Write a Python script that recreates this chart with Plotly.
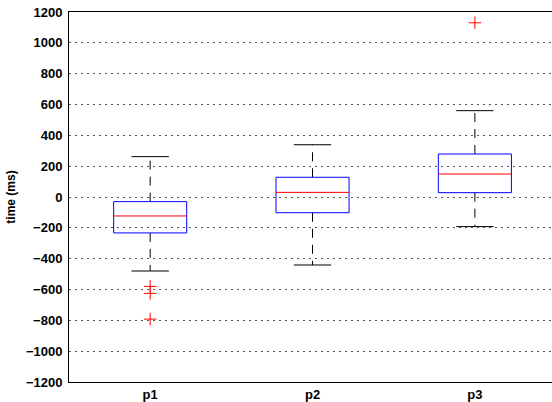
import plotly.graph_objects as go

categories = ["p1", "p2", "p3"]
positions = [1, 2, 3]
upper_whisker = [262, 339, 560]
q3 = [-30, 128, 279]
median = [-123, 30, 149]
q1 = [-233, -102, 28]
lower_whisker = [-480, -441, -192]
outliers = [[-580, -625, -792], [], [1130]]

box_half = 0.225
cap_half = 0.115
FONT = "Arial, Liberation Sans, Helvetica, sans-serif"

fig = go.Figure()

for i, p in enumerate(positions):
    # whiskers (dashed)
    fig.add_trace(go.Scatter(x=[p, p], y=[q3[i], upper_whisker[i]], mode="lines",
                             line=dict(color="black", width=1, dash="9px,7px"), hoverinfo="skip"))
    fig.add_trace(go.Scatter(x=[p, p], y=[q1[i], lower_whisker[i]], mode="lines",
                             line=dict(color="black", width=1, dash="9px,7px"), hoverinfo="skip"))
    # caps
    fig.add_trace(go.Scatter(x=[p - cap_half, p + cap_half], y=[upper_whisker[i]] * 2, mode="lines",
                             line=dict(color="black", width=1), hoverinfo="skip"))
    fig.add_trace(go.Scatter(x=[p - cap_half, p + cap_half], y=[lower_whisker[i]] * 2, mode="lines",
                             line=dict(color="black", width=1), hoverinfo="skip"))
    # box
    fig.add_trace(go.Scatter(x=[p - box_half, p + box_half, p + box_half, p - box_half, p - box_half],
                             y=[q1[i], q1[i], q3[i], q3[i], q1[i]], mode="lines",
                             line=dict(color="blue", width=1), hoverinfo="skip"))
    # median
    fig.add_trace(go.Scatter(x=[p - box_half, p + box_half], y=[median[i]] * 2, mode="lines",
                             line=dict(color="red", width=1), hoverinfo="skip"))
    # outliers
    if outliers[i]:
        fig.add_trace(go.Scatter(x=[p] * len(outliers[i]), y=outliers[i], mode="markers",
                                 marker=dict(symbol="cross-thin", size=9,
                                             line=dict(color="red", width=1)),
                                 hoverinfo="skip"))

fig.update_layout(
    width=552, height=402,
    margin=dict(l=69, r=0, t=12, b=20),
    paper_bgcolor="white", plot_bgcolor="white",
    showlegend=False,
    font=dict(family=FONT, size=12, color="black"),
    xaxis=dict(range=[0.5, 3.475], tickvals=positions, ticktext=categories,
               showgrid=False, zeroline=False, showline=True, linecolor="black",
               linewidth=1, mirror=True, ticks="", automargin=False,
               tickfont=dict(size=13, family=FONT, weight="bold")),
    yaxis=dict(range=[-1200, 1200], dtick=200, tick0=0,
               showgrid=True, gridcolor="#555555", griddash="2px,4px", gridwidth=1,
               zeroline=False, showline=True, linecolor="black", linewidth=1,
               ticks="", ticklabelstandoff=3, automargin=False,
               tickfont=dict(size=13, family=FONT, weight="bold"),
               title=dict(text="time (ms)", standoff=7,
                          font=dict(size=12, family=FONT, weight="bold"))),
)

fig.write_html("out.html", config={"displayModeBar": False},
               post_script="document.body.style.margin='0px';")
